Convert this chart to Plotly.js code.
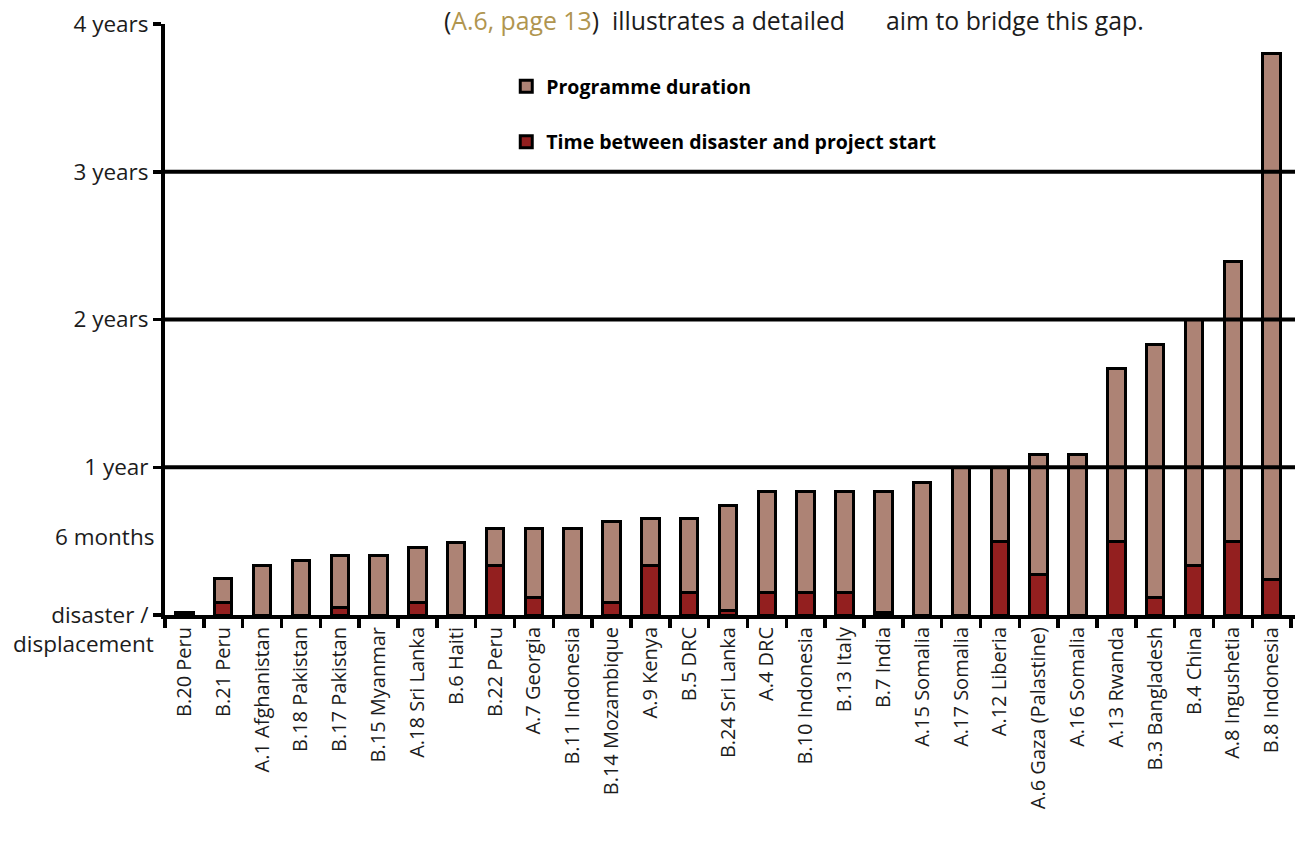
<!DOCTYPE html>
<html>
<head>
<meta charset="utf-8">
<script src="https://cdn.plot.ly/plotly-3.0.1.min.js"></script>
<style>html,body{margin:0;padding:0;background:#fff;}#chart{width:1298px;height:854px;}</style>
</head>
<body>
<div id="chart"></div>
<script>
// Projects (categories)
const projects = ["B.20 Peru","B.21 Peru","A.1 Afghanistan","B.18 Pakistan","B.17 Pakistan","B.15 Myanmar","A.18 Sri Lanka","B.6 Haiti","B.22 Peru","A.7 Georgia","B.11 Indonesia","B.14 Mozambique","A.9 Kenya","B.5 DRC","B.24 Sri Lanka","A.4 DRC","B.10 Indonesia","B.13 Italy","B.7 India","A.15 Somalia","A.17 Somalia","A.12 Liberia","A.6 Gaza (Palastine)","A.16 Somalia","A.13 Rwanda","B.3 Bangladesh","B.4 China","A.8 Ingushetia","B.8 Indonesia"];
// Time between disaster and project start (months)
const startDelay = [0.2,1.0,0,0,0.6,0,1.0,0,4.0,1.4,0,1.0,4.0,1.8,0.4,1.8,1.8,1.8,0.2,0,0,6.0,3.3,0,6.0,1.4,4.0,6.0,2.9];
// Programme duration (months)
const programmeDuration = [0,2.0,4.0,4.4,4.2,4.8,4.5,5.9,3.0,5.6,7.0,6.6,3.8,6.0,8.5,8.2,8.2,8.2,9.8,10.8,12.0,6.0,9.7,13.0,14.0,20.6,20.0,22.7,42.7];
// Y axis ticks (months)
const yTickVals = [0,12,24,36,48];
const yTickText = ["disaster /","1 year","2 years","3 years","4 years"];
const yearLines = [12,24,36];

const RED = "#931F1F", BROWN = "#AD8375", INK = "#1c1c1c";

const traces = [
  {type:"bar", x:projects, y:startDelay, name:"<b>Time between disaster and project start</b>",
   marker:{color:RED, line:{color:"#000", width:3}}, width:0.45, legendgroup:"red", legendrank:2},
  {type:"bar", x:projects, y:programmeDuration, name:"<b>Programme duration</b>",
   marker:{color:BROWN, line:{color:"#000", width:3}}, width:0.45, legendgroup:"brown", legendrank:1}
];

const shapes = yearLines.map(v => ({type:"line", xref:"paper", yref:"y", x0:0, x1:1, y0:v, y1:v,
  line:{color:"#000", width:4}, layer:"above"}));

const layout = {
  width:1298, height:854,
  margin:{l:165, r:3, t:24, b:239},
  paper_bgcolor:"#fff", plot_bgcolor:"#fff",
  font:{family:"Open Sans, Noto Sans, sans-serif", color:INK, size:20},
  barmode:"stack",
  showlegend:true,
  legend:{x:0.302, y:0.927, xanchor:"left", yanchor:"top", traceorder:"grouped",
    tracegroupgap:27, font:{size:19.5, color:"#000"}, bgcolor:"rgba(0,0,0,0)", itemwidth:30},
  xaxis:{range:[-0.5,28.6], type:"category", tickangle:-90, tickson:"boundaries",
    ticks:"outside", ticklen:9, tickwidth:3.5, tickcolor:"#000",
    showline:true, linecolor:"#000", linewidth:4, showgrid:false, zeroline:false,
    tickfont:{size:20, color:INK}, fixedrange:true},
  yaxis:{range:[0,48], tickvals:yTickVals, ticktext:yTickText,
    ticks:"outside", ticklen:8, tickwidth:3.5, tickcolor:"#000",
    showline:true, linecolor:"#000", linewidth:4, showgrid:false, zeroline:false,
    tickfont:{size:22.5, color:INK}},
  shapes:shapes,
  annotations:[
    {xref:"paper", yref:"y", x:0, y:6.4, xanchor:"right", yanchor:"middle", xshift:-9,
     text:"6 months", showarrow:false, font:{size:22.5, color:INK}},
    {xref:"paper", yref:"paper", x:0, y:0, xanchor:"right", yanchor:"middle", xshift:-9, yshift:-28,
     text:"displacement", showarrow:false, font:{size:22.5, color:INK}},
    {xref:"paper", yref:"paper", x:0.245, y:1.007, xanchor:"left", yanchor:"middle",
     text:"(<span style='color:#B0954F'>A.6, page 13</span>)  illustrates a detailed", showarrow:false, font:{size:24.8, color:INK}},
    {xref:"paper", yref:"paper", x:0.636, y:1.007, xanchor:"left", yanchor:"middle",
     text:"aim to bridge this gap.", showarrow:false, font:{size:24.8, color:INK}}
  ]
};

Plotly.newPlot("chart", traces, layout, {displayModeBar:false, staticPlot:true});
</script>
</body>
</html>
